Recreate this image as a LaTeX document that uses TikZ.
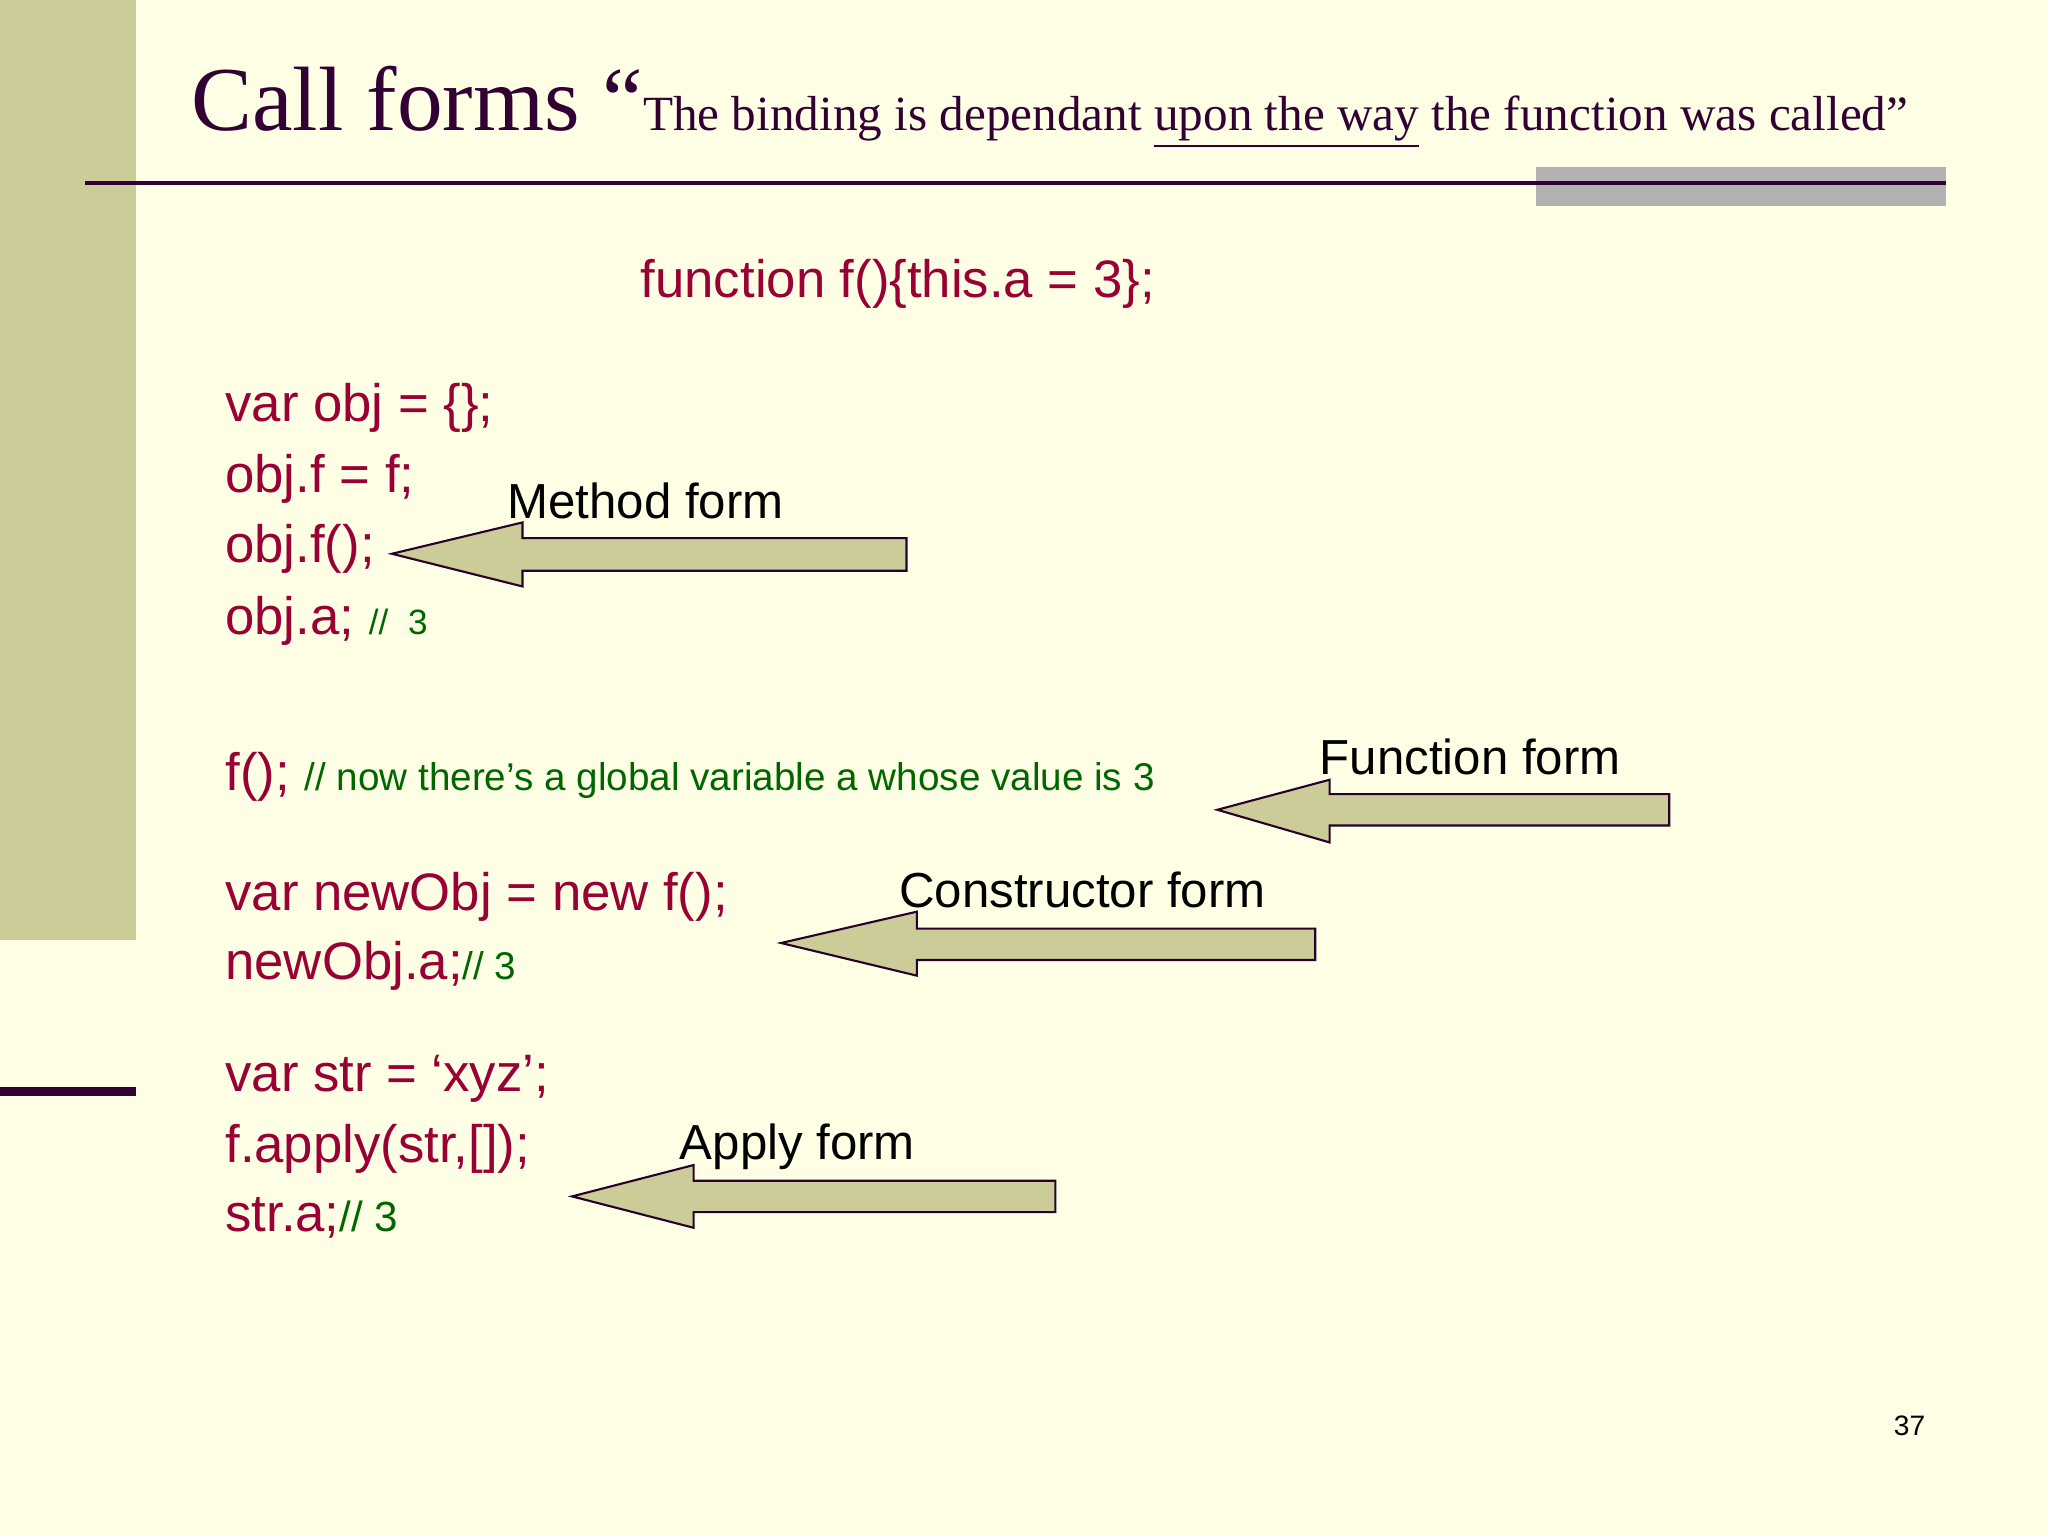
\documentclass[tikz,border=0pt]{standalone}
\usepackage{fontspec}
\setmainfont{Liberation Sans}
\newfontfamily\ttl{Liberation Serif}
\definecolor{bg}{HTML}{FFFFE6}
\definecolor{olive}{HTML}{CCCC99}
\definecolor{dpurp}{HTML}{330033}
\definecolor{code}{HTML}{990033}
\definecolor{cmt}{HTML}{006600}
\begin{document}
\begin{tikzpicture}[x=0.013061cm,y=-0.013061cm,
  codet/.style={anchor=base west,inner sep=0pt,text=code,font=\fontsize{15}{18}\selectfont},
  cm/.style={text=cmt},
  lbl/.style={anchor=base west,inner sep=0pt,font=\fontsize{14}{17}\selectfont},
  barrow/.style={fill=olive,draw=dpurp!80!black,line width=0.6pt,line join=miter}]
\fill[bg] (0,0) rectangle (1568,1176);
\useasboundingbox (0,0) rectangle (1568,1176);
\fill[olive] (0,0) rectangle (104,720);
\fill[dpurp] (0,832) rectangle (104,839);
\fill[black!30] (1176,128) rectangle (1490,158);
\draw[dpurp,line width=1.3pt] (65,140) -- (1490,140);
\node[anchor=base west,inner sep=0pt,text=dpurp] (title) at (146,100) {\ttl\fontsize{26}{30}\selectfont Call forms “\fontsize{14}{17}\selectfont The binding is dependant \underline{upon the way} the function was called”};
\node[codet] (fdef) at (490,228) {function f()\{this.a = 3\};};
\node[codet] (l1) at (172,323) {var obj = \{\};};
\node[codet] (l2) at (172,377) {obj.f = f;};
\node[codet] (l3) at (172,431) {obj.f();};
\node[codet] (l4) at (172,486) {obj.a; {\fontsize{10}{12}\selectfont\color{cmt}// \ 3}};
\node[codet] (l5) at (172,605) {f(); {\fontsize{11}{13}\selectfont\color{cmt}// now there’s a global variable a whose value is 3}};
\node[codet] (l6) at (172,697) {var newObj = new f();};
\node[codet] (l7) at (172,750) {newObj.a;{\fontsize{11}{13}\selectfont\color{cmt}// 3}};
\node[codet] (l8) at (172,836) {var str = ‘xyz’;};
\node[codet] (l9) at (172,890) {f.apply(str,[]);};
\node[codet] (l10) at (172,943) {str.a;{\fontsize{12}{14}\selectfont\color{cmt}// 3}};
\draw[barrow] (300,424) -- (400,400) -- (400,412) -- (694,412) -- (694,437) -- (400,437) -- (400,449) -- cycle;
\draw[barrow] (932,620) -- (1018,597) -- (1018,608) -- (1278,608) -- (1278,632) -- (1018,632) -- (1018,645) -- cycle;
\draw[barrow] (598,722) -- (702,698) -- (702,711) -- (1007,711) -- (1007,735) -- (702,735) -- (702,747) -- cycle;
\draw[barrow] (438,916) -- (531,892) -- (531,904) -- (808,904) -- (808,928) -- (531,928) -- (531,940) -- cycle;
\node[lbl] (m) at (388,397) {Method form};
\node[lbl] (fn) at (1010,593) {Function form};
\node[lbl] (c) at (688,695) {Constructor form};
\node[lbl] (a) at (520,888) {Apply form};
\node[inner sep=0pt,font=\fontsize{8}{10}\selectfont] (pg) at (1462,1092) {37};
\end{tikzpicture}
\end{document}
